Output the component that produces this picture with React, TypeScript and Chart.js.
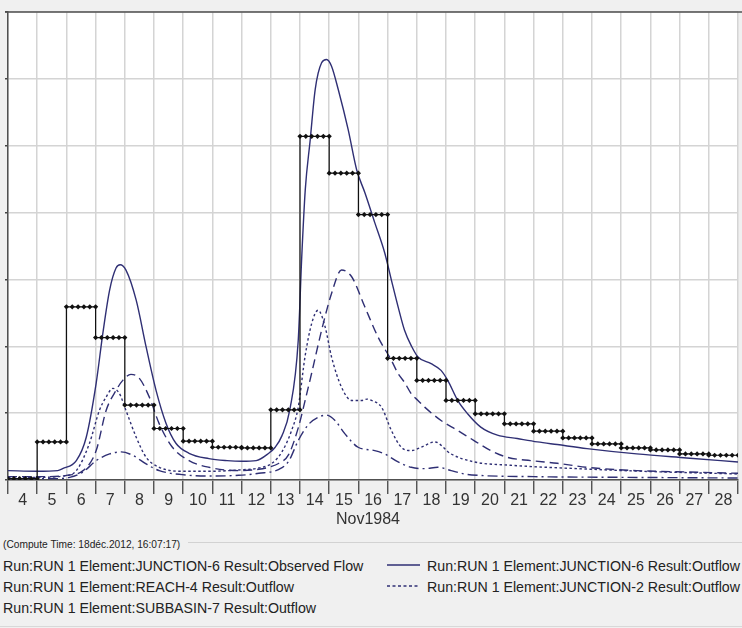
import React, { useEffect, useRef } from "react";
import { Chart, registerables } from "chart.js";

Chart.register(...registerables);

// ---- tick labels (days of Nov 1984) ----
const dayLabels = ["4", "5", "6", "7", "8", "9", "10", "11", "12", "13", "14", "15", "16", "17", "18", "19", "20", "21", "22", "23", "24", "25", "26", "27", "28"];
const monthLabel = "Nov1984";

// ---- observed flow (daily values, step plot) ----
const obsDays = [4, 5, 6, 7, 8, 9, 10, 11, 12, 13, 14, 15, 16, 17, 18, 19, 20, 21, 22, 23, 24, 25, 26, 27, 28];
const obsValues = [2, 57, 259, 213, 112, 77, 58, 49, 48, 105, 514, 459, 397, 182, 149, 119, 99, 84, 73, 63, 54, 48, 45, 39, 37];

// ---- JUNCTION-6 outflow ----
const j6Times = [4, 5, 5.7, 5.87, 6.34, 6.68, 7.02, 7.25, 7.48, 7.7, 7.84, 8.04, 8.39, 8.73, 9.07, 9.41, 9.75, 10.2, 10.88, 11.5, 12, 12.5, 12.93, 13.15, 13.38, 13.65, 13.94, 14.06, 14.18, 14.35, 14.52, 14.74, 14.91, 15.08, 15.31, 15.65, 15.94, 16.22, 16.56, 16.9, 17.13, 17.36, 17.58, 17.82, 18.04, 18.49, 18.83, 19.06, 19.4, 19.74, 20.19, 20.76, 21.44, 22.13, 22.81, 23.83, 25.53, 27.24, 29];
const j6Values = [14, 13, 14, 17, 29, 64, 145, 220, 284, 317, 322, 314, 269, 199, 134, 85, 55, 40, 32, 29, 28, 29, 40, 49, 66, 105, 209, 334, 434, 509, 584, 624, 629, 619, 584, 524, 464, 430, 385, 340, 299, 259, 224, 200, 184, 174, 164, 149, 119, 99, 79, 67, 62, 57, 53, 47, 39, 33, 27];

// ---- REACH-4 outflow ----
const r4Times = [4, 5, 5.43, 6, 6.57, 7.02, 7.36, 7.7, 7.93, 8.21, 8.5, 8.84, 9.18, 9.63, 10.2, 10.88, 11.9, 12.59, 12.93, 13.28, 13.61, 13.94, 14.17, 14.4, 14.74, 15.08, 15.42, 15.77, 16.22, 16.67, 17.13, 17.36, 17.58, 17.81, 18.04, 18.27, 18.83, 19.4, 19.96, 20.53, 21.1, 21.9, 22.81, 23.83, 25.53, 27.24, 29];
const r4Values = [5, 5, 5, 7, 14, 44, 104, 134, 149, 158, 152, 124, 84, 49, 29, 19, 14, 16, 19, 25, 38, 78, 118, 160, 224, 279, 314, 304, 259, 214, 179, 159, 146, 129, 119, 109, 89, 74, 59, 44, 34, 29, 25, 19, 14, 12, 10];

// ---- JUNCTION-2 outflow ----
const j2Times = [4, 5, 5.9, 6.34, 6.79, 7.13, 7.36, 7.59, 7.82, 8.04, 8.39, 8.73, 9.18, 9.97, 10.88, 11.9, 12.59, 13.04, 13.38, 13.72, 13.94, 14.17, 14.4, 14.62, 14.86, 15.08, 15.42, 15.77, 16.11, 16.3, 16.45, 16.79, 17.13, 17.47, 17.81, 18.2, 18.61, 19.17, 19.97, 21.22, 23.49, 25.76, 29];
const j2Values = [4, 4, 6, 14, 55, 104, 124, 137, 129, 104, 64, 34, 19, 13, 13, 15, 18, 25, 42, 75, 109, 184, 234, 254, 229, 184, 139, 119, 119, 121, 119, 109, 74, 49, 44, 50, 57, 39, 27, 22, 17, 13, 9];

// ---- SUBBASIN-7 outflow ----
const sbTimes = [4, 5, 5.5, 6.11, 6.57, 7.02, 7.48, 7.87, 8.27, 8.73, 9.18, 9.97, 10.88, 11.9, 12.59, 13.28, 13.61, 13.94, 14.29, 14.63, 14.91, 15.2, 15.54, 15.99, 16.56, 16.9, 17.36, 17.81, 18.27, 18.72, 19.18, 19.63, 20.08, 22, 25, 29];
const sbValues = [2, 2, 2, 4, 12, 29, 39, 42, 37, 24, 14, 8, 6, 7, 10, 16, 28, 59, 83, 94, 97, 89, 69, 49, 44, 39, 27, 19, 17, 19, 14, 9, 7, 5, 4, 3];

const seriesNames = [
  "Run:RUN 1 Element:JUNCTION-6 Result:Observed Flow",
  "Run:RUN 1 Element:JUNCTION-6 Result:Outflow",
  "Run:RUN 1 Element:REACH-4 Result:Outflow",
  "Run:RUN 1 Element:JUNCTION-2 Result:Outflow",
  "Run:RUN 1 Element:SUBBASIN-7 Result:Outflow",
];
const computeTime = "(Compute Time: 18déc.2012, 16:07:17)";

const NAVY = "#2f2f74";
const FONT = '"Liberation Sans", Arial, sans-serif';

const toPts = (t: number[], v: number[]) => t.map((x, i) => ({ x, y: v[i] }));

// observed step: six samples across each day, same daily value
const obsPts = obsDays.flatMap((d, i) => [0, 1, 2, 3, 4, 5].map((k) => ({ x: d + k / 5, y: obsValues[i] })));

const framePlugin = {
  id: "frame",
  beforeDraw(chart: any) {
    const { ctx, chartArea } = chart;
    ctx.save();
    ctx.fillStyle = "#ffffff";
    ctx.fillRect(chartArea.left, chartArea.top, chartArea.right - chartArea.left, chartArea.bottom - chartArea.top);
    ctx.restore();
  },
  afterDraw(chart: any) {
    const { ctx, chartArea } = chart;
    ctx.save();
    ctx.strokeStyle = "#505050";
    ctx.lineWidth = 1.5;
    ctx.beginPath();
    ctx.moveTo(chartArea.left - 3, chartArea.top);
    ctx.lineTo(chart.width, chartArea.top);
    ctx.stroke();
    ctx.restore();
  },
};

export default function App() {
  const ref = useRef<HTMLCanvasElement>(null);

  useEffect(() => {
    if (!ref.current) return;
    const chart = new Chart(ref.current, {
      type: "line",
      data: {
        datasets: [
          {
            label: seriesNames[0],
            data: obsPts,
            borderColor: "#111111",
            borderWidth: 1.2,
            pointStyle: "rectRot",
            pointRadius: 2.6,
            pointBackgroundColor: "#111111",
            pointBorderWidth: 0,
            tension: 0,
          },
          {
            label: seriesNames[1],
            data: toPts(j6Times, j6Values),
            borderColor: NAVY,
            borderWidth: 1.4,
            pointRadius: 0,
            cubicInterpolationMode: "monotone",
          },
          {
            label: seriesNames[2],
            data: toPts(r4Times, r4Values),
            borderColor: NAVY,
            borderWidth: 1.4,
            borderDash: [9, 5],
            pointRadius: 0,
            cubicInterpolationMode: "monotone",
          },
          {
            label: seriesNames[3],
            data: toPts(j2Times, j2Values),
            borderColor: NAVY,
            borderWidth: 1.4,
            borderDash: [2.5, 2.5],
            pointRadius: 0,
            cubicInterpolationMode: "monotone",
          },
          {
            label: seriesNames[4],
            data: toPts(sbTimes, sbValues),
            borderColor: NAVY,
            borderWidth: 1.4,
            borderDash: [10, 4, 2, 4],
            pointRadius: 0,
            cubicInterpolationMode: "monotone",
          },
        ],
      },
      options: {
        responsive: false,
        animation: false,
        layout: { padding: { top: 12, left: 0, right: 0, bottom: 0 } },
        plugins: { legend: { display: false }, tooltip: { enabled: false } },
        scales: {
          x: {
            type: "linear",
            min: 4,
            max: 29,
            afterFit: (s: any) => {
              s.height = 56;
            },
            ticks: {
              stepSize: 1,
              autoSkip: false,
              maxRotation: 0,
              labelOffset: 14.68,
              padding: -3,
              color: "#333333",
              font: { family: FONT, size: 16 },
              callback: (v: any) => dayLabels[Number(v) - 4] ?? "",
            },
            grid: { color: "#d4d4d4", lineWidth: 1.5, tickColor: "#444444", tickLength: 14, tickWidth: 1.3 },
            border: { color: "#505050", width: 1.5 },
          },
          y: {
            min: 0,
            max: 700,
            afterFit: (s: any) => {
              s.width = 8;
            },
            ticks: { stepSize: 100, display: false },
            grid: { color: "#d4d4d4", lineWidth: 1.5, tickColor: "#444444", tickLength: 3, tickWidth: 1.3 },
            border: { color: "#505050", width: 1.5 },
          },
        },
      },
      plugins: [framePlugin],
    } as any);
    return () => chart.destroy();
  }, []);

  const legendText: React.CSSProperties = {
    position: "absolute",
    fontSize: 14.2,
    lineHeight: "21px",
    color: "#222",
    whiteSpace: "nowrap",
  };

  return (
    <div
      style={{
        position: "fixed",
        left: 0,
        top: 0,
        width: 742,
        height: 628,
        background: "#f0f0f0",
        overflow: "hidden",
        fontFamily: FONT,
      }}
    >
      <canvas ref={ref} width={742} height={536} style={{ position: "absolute", left: 0, top: 0, width: 742, height: 536 }} />
      <div style={{ position: "absolute", top: 511, left: 0, width: 736, textAlign: "center", fontSize: 16, lineHeight: "16px", color: "#333" }}>
        {monthLabel}
      </div>
      <div style={{ position: "absolute", top: 539, left: 3, fontSize: 10.2, lineHeight: "12px", color: "#222", whiteSpace: "nowrap" }}>
        {computeTime}
      </div>
      <div style={{ position: "absolute", top: 542, left: 188, right: 0, height: 1, background: "#d2d2d2" }} />
      <div style={{ position: "absolute", top: 626, left: 0, right: 0, height: 1, background: "#d8d8d8" }} />
      <div style={{ ...legendText, top: 555.6, left: 3 }}>{seriesNames[0]}</div>
      <div style={{ ...legendText, top: 576.6, left: 3 }}>{seriesNames[2]}</div>
      <div style={{ ...legendText, top: 597.6, left: 3 }}>{seriesNames[4]}</div>
      <svg style={{ position: "absolute", left: 384, top: 558, width: 40, height: 36 }} width={40} height={36}>
        <line x1={3} y1={7} x2={36} y2={7} stroke={NAVY} strokeWidth={1.4} />
        <line x1={3} y1={28} x2={36} y2={28} stroke={NAVY} strokeWidth={1.4} strokeDasharray="3 2.5" />
      </svg>
      <div style={{ ...legendText, top: 555.6, left: 427 }}>{seriesNames[1]}</div>
      <div style={{ ...legendText, top: 576.6, left: 427 }}>{seriesNames[3]}</div>
    </div>
  );
}
